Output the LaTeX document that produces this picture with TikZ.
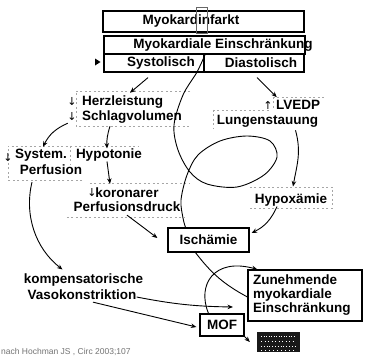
\documentclass[tikz,border=0pt]{standalone}
\usepackage{fontspec}
\setmainfont{Liberation Sans}
\newfontfamily\symf{DejaVu Sans}
\usetikzlibrary{arrows.meta}
\begin{document}
\begin{tikzpicture}[x=1pt,y=-1pt]
\tikzset{
 bx/.style={draw, line width=1.2pt, inner sep=0pt},
 tx/.style={font=\bfseries\fontsize{13.5}{14}\selectfont, inner sep=0pt},
 dl/.style={draw=black!35, line width=0.6pt, dash pattern=on 2pt off 2.5pt},
 arr/.style={line width=0.9pt, -{Stealth[length=5.5pt,width=4.5pt]}},
 ln/.style={line width=0.9pt},
 ar/.style={font=\symf\fontsize{11}{11}\selectfont, inner sep=0pt},
 hid/.style={inner sep=0pt}
}
\fill[white] (0,0) rectangle (377,356);
\useasboundingbox (0,0) rectangle (377,356);

% top boxes
\node[bx, minimum width=201pt, minimum height=21pt] (mi) at (203.5,21.5) {};
\node[tx] (mit) at (191,21.5) {Myokardinfarkt};
\node[draw=black!60, line width=0.6pt, minimum width=11pt, minimum height=26pt, inner sep=0pt] (tick) at (201.5,20) {};
\node[bx, minimum width=201pt, minimum height=18pt] (me) at (204.5,45) {};
\node[tx] (met) at (223,45) {Myokardiale Einschränkung};
\node[bx, minimum width=100pt, minimum height=18pt] (sys) at (154,63) {};
\node[bx, minimum width=100pt, minimum height=18pt] (dia) at (254,63) {};
\node[tx] (syst) at (161,63) {Systolisch};
\node[tx] (diat) at (261,63) {Diastolisch};
\fill (95,58.5) -- (100.5,62) -- (95,65.5) -- cycle;

% Herzleistung
\node[hid, minimum width=114pt, minimum height=35pt] (hz) at (133,108.5) {};
\draw[dl] (hz.north east) -- (hz.north west) -- (hz.south west) -- (hz.south east);
\node[tx, anchor=west] (hl) at (82,102) {Herzleistung};
\node[tx, anchor=west] (sv) at (82,117) {Schlagvolumen};
\node[ar] (a1) at (72,102) {↓};
\node[ar] (a2) at (72,117) {↓};

% System. Perfusion / Hypotonie
\node[hid, minimum width=74pt, minimum height=34pt] (sp) at (45,163) {};
\draw[dl] (sp.south east) -- (sp.south west) -- (sp.north west) -- ([xshift=56pt]sp.north east);
\draw[dl] ([xshift=-12pt]sp.north east) -- ++(0,19);
\node[tx] (sy) at (41,155) {System.};
\node[tx] (pf) at (51,170) {Perfusion};
\node[ar] (a3) at (8,158) {↓};
\node[tx] (hypo) at (109,155) {Hypotonie};

% koronarer Perfusionsdruck
\node[hid, minimum width=123pt, minimum height=34pt] (kor) at (128.5,200) {};
\draw[dl] ([xshift=23pt]kor.north west) -- (kor.north east);
\draw[dl] (kor.south west) -- ([xshift=-5pt]kor.south east);
\node[tx] (ko) at (127,193) {koronarer};
\node[ar] (a4) at (92,193) {↓};
\node[tx] (pd) at (127,207) {Perfusionsdruck};

% LVEDP
\node[hid, minimum width=112pt, minimum height=31pt] (lv) at (269,112.5) {};
\draw[dl] ([xshift=60pt]lv.north west) -- (lv.north east);
\draw[dl] ([yshift=-13pt]lv.north west) -- ++(57,0);
\draw[dl] ([yshift=-13pt]lv.north west) -- (lv.south west);
\draw[dl] ([xshift=60pt]lv.north west) -- ++(0,13);
\node[tx] (lvt) at (298,105) {LVEDP};
\node[ar] (a5) at (268,105) {↑};
\node[tx] (lst) at (267.5,121) {Lungenstauung};

% Hypoxaemie
\node[hid, minimum width=82pt, minimum height=21pt] (hx) at (291,197.5) {};
\draw[dl] (hx.north west) -- (hx.north east) -- (hx.south east) -- (hx.south west);
\node[tx] (hxt) at (291,200) {Hypoxämie};

% lower boxes
\node[bx, tx, minimum width=81pt, minimum height=24pt] (isch) at (208.5,240) {Ischämie};
\node[bx, tx, text width=104pt, align=left, inner xsep=5pt, minimum height=51pt] (zun) at (305,295.5) {Zunehmende\\myokardiale\\Einschränkung};
\node[bx, tx, minimum width=44pt, minimum height=22pt] (mof) at (222,325) {MOF};
\node[tx] (kmp) at (83.5,280) {kompensatorische};
\node[tx] (vaso) at (82,295) {Vasokonstriktion};

% logo
\node[fill=black!90, minimum width=43pt, minimum height=20pt, inner sep=0pt] (logo) at (278.5,342) {};
\foreach \yy/\dd in {336/1.5,341/2.5,346/1.8,350/3}
  \draw[white, line width=0.5pt, dash pattern=on 1pt off \dd pt] (261,\yy) -- (296,\yy);

\node[anchor=base west, font=\fontsize{8.5}{9}\selectfont, text=black!55, inner sep=0pt] (ref) at (1,354.5) {nach Hochman JS , Circ 2003;107};

% connectors
\draw[arr] ([xshift=-6pt,yshift=-5pt]sys.south) -- ([xshift=-3pt,yshift=-2pt]hz.north);
\draw[arr] ([xshift=3pt,yshift=-5pt]dia.south) -- ([xshift=1pt,yshift=3pt]lvt.north west);
\draw[arr] ([xshift=-8pt,yshift=3pt]hz.south west) to[bend right=20] ([xshift=-2pt,yshift=-1pt]sp.north);
\draw[arr] ([xshift=-23pt]hz.south) to[bend right=10] ([xshift=-2pt]hypo.north);
\draw[arr] ([xshift=-2pt]hypo.south) -- ([xshift=-17pt,yshift=4pt]ko.north);
\draw[arr] ([yshift=-3pt]pd.south) -- ([xshift=-10pt,yshift=2pt]isch.west);
\draw[arr] ([xshift=-19pt,yshift=-7pt]pf.south) .. controls +(-8,33) and +(-27,-21) .. ([xshift=-21pt,yshift=4pt]kmp.north);
\draw[arr] ([xshift=28pt,yshift=-3pt]lst.south) .. controls +(6,22) and +(4,-22) .. ([xshift=2pt,yshift=7pt]hxt.north);
\draw[arr] ([xshift=-14pt]hxt.south) to[bend left=20] ([xshift=2pt,yshift=7pt]isch.east);

\coordinate (j) at ([xshift=1pt]sys.north east);
\coordinate (le) at ([xshift=-23pt]isch.north);
\draw[ln] plot[smooth, tension=0.55] coordinates {(j) (197,72) (183,95) (174,125) (178,150) (190,172) (207,184) (237,187) (264,175) (277,157) (270,141) (247,136) (220,141) (198,155) (187,175) (181,200) (183,218) (le)};
\draw[ln] ([xshift=-13pt]isch.south) to[bend right=12] ([yshift=-1.5pt]zun.west);
\draw[arr] ([xshift=-13.5pt]mof.north) .. controls +(-12,-29) and +(-43,-12) .. ([xshift=10pt]zun.north west);
\coordinate (vt) at (233,307);
\draw[arr] ([yshift=-2pt]vaso.east) to[bend right=5] (vt);
\draw[arr] ([xshift=11pt,yshift=-2pt]vaso.south) -- ([xshift=-3pt,yshift=-2pt]mof.west);
\draw[arr] (mof.south east) -- ([xshift=-7pt]logo.west);
\end{tikzpicture}
\end{document}
